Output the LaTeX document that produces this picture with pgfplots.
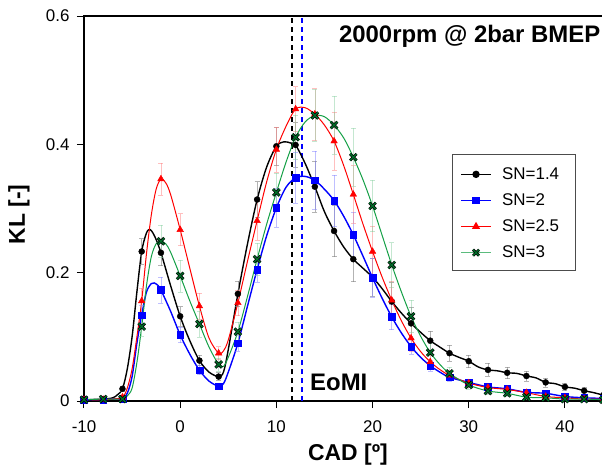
\documentclass[border=0pt]{standalone}
\usepackage{fontspec}
\setmainfont{Liberation Sans}
\usepackage{pgfplots}
\usepackage{pgfplotstable}
\pgfplotsset{compat=1.18}

\definecolor{sgreen}{RGB}{20,160,70}
\definecolor{mkgreen}{RGB}{0,110,40}
\definecolor{sblue}{RGB}{0,0,255}
\definecolor{sred}{RGB}{255,0,0}

\pgfdeclareplotmark{gx}{%
  \pgfsetlinewidth{2.8bp}\pgfsetstrokecolor{black}%
  \pgfpathmoveto{\pgfqpoint{-\pgfplotmarksize}{-\pgfplotmarksize}}%
  \pgfpathlineto{\pgfqpoint{\pgfplotmarksize}{\pgfplotmarksize}}%
  \pgfpathmoveto{\pgfqpoint{-\pgfplotmarksize}{\pgfplotmarksize}}%
  \pgfpathlineto{\pgfqpoint{\pgfplotmarksize}{-\pgfplotmarksize}}%
  \pgfusepathqstroke
  \pgfsetlinewidth{1.3bp}\pgfsetstrokecolor{mkgreen}%
  \pgfpathmoveto{\pgfqpoint{-\pgfplotmarksize}{-\pgfplotmarksize}}%
  \pgfpathlineto{\pgfqpoint{\pgfplotmarksize}{\pgfplotmarksize}}%
  \pgfpathmoveto{\pgfqpoint{-\pgfplotmarksize}{\pgfplotmarksize}}%
  \pgfpathlineto{\pgfqpoint{\pgfplotmarksize}{-\pgfplotmarksize}}%
  \pgfusepathqstroke
}

\pgfplotsset{mylegimg/.style={legend image code/.code={%
  \draw[mark repeat=2,mark phase=2,##1] plot coordinates {(0bp,0bp) (15bp,0bp) (30bp,0bp)};
  \path (0bp,0bp) (39bp,0bp);}}}

% ---- markers with error bars (x, y, e) ----
\pgfplotstableread{
x y e
-10 0.002 0.001
-8 0.003 0.001
-6 0.019 0.004
-4 0.233 0.020
-2 0.231 0.020
0 0.132 0.015
2 0.063 0.008
4 0.038 0.006
6 0.167 0.020
8 0.314 0.028
10 0.397 0.030
12 0.399 0.035
14 0.334 0.040
16 0.265 0.040
18 0.221 0.035
20 0.193 0.030
22 0.155 0.030
24 0.121 0.025
26 0.094 0.015
28 0.0745 0.012
30 0.062 0.010
32 0.0485 0.010
34 0.044 0.009
36 0.039 0.008
38 0.029 0.007
40 0.022 0.006
42 0.016 0.005
44 0.009 0.004
}\mkblack
\pgfplotstableread{
x y e
-10 0.002 0.001
-8 0.002 0.001
-6 0.004 0.002
-4 0.134 0.015
-2 0.173 0.020
0 0.103 0.012
2 0.048 0.007
4 0.023 0.005
6 0.090 0.012
8 0.205 0.020
10 0.301 0.030
12 0.348 0.040
14 0.344 0.045
16 0.3125 0.040
18 0.259 0.035
20 0.192 0.030
22 0.131 0.020
24 0.085 0.012
26 0.055 0.008
28 0.037 0.006
30 0.029 0.005
32 0.022 0.004
34 0.019 0.004
36 0.0135 0.003
38 0.012 0.003
40 0.007 0.002
42 0.005 0.002
44 0.004 0.002
}\mkblue
\pgfplotstableread{
x y e
-10 0.002 0.001
-8 0.002 0.001
-6 0.006 0.002
-4 0.156 0.020
-2 0.346 0.025
0 0.267 0.025
2 0.148 0.020
4 0.0745 0.010
6 0.153 0.020
8 0.281 0.030
10 0.392 0.035
12 0.455 0.035
14 0.447 0.040
16 0.405 0.045
18 0.322 0.045
20 0.233 0.040
22 0.157 0.030
24 0.098 0.020
26 0.061 0.012
28 0.040 0.008
30 0.028 0.006
32 0.021 0.005
34 0.018 0.004
36 0.013 0.003
38 0.007 0.003
40 0.005 0.002
42 0.003 0.002
44 0.003 0.002
}\mkred
\pgfplotstableread{
x y e
-10 0.002 0.001
-8 0.003 0.001
-6 0.003 0.002
-4 0.116 0.015
-2 0.249 0.025
0 0.195 0.025
2 0.120 0.020
4 0.057 0.010
6 0.108 0.015
8 0.221 0.025
10 0.325 0.030
12 0.411 0.035
14 0.445 0.040
16 0.430 0.045
18 0.380 0.045
20 0.304 0.040
22 0.212 0.035
24 0.132 0.025
26 0.0755 0.015
28 0.043 0.010
30 0.025 0.007
32 0.0156 0.005
34 0.012 0.004
36 0.006 0.003
38 0.005 0.003
40 0.003 0.002
42 0.003 0.002
44 0.002 0.002
}\mkgreen

% ---- finer curves ----
\pgfplotstableread{
x y
-10 0.002
-8 0.003
-7 0.005
-6.5 0.010
-6 0.019
-5.5 0.050
-5 0.100
-4.5 0.170
-4 0.233
-3.5 0.262
-3.1 0.267
-2.6 0.255
-2 0.231
-1 0.180
0 0.132
1 0.094
2 0.063
3 0.045
4 0.038
4.5 0.045
5 0.080
6 0.167
7 0.245
8 0.314
9 0.365
10 0.397
10.8 0.404
11.5 0.402
12 0.399
13 0.370
14 0.334
15 0.295
16 0.265
17 0.240
18 0.221
19 0.207
20 0.193
21 0.175
22 0.155
23 0.137
24 0.121
25 0.107
26 0.094
27 0.084
28 0.0745
29 0.068
30 0.062
31 0.053
32 0.0485
33 0.047
34 0.044
35 0.043
36 0.039
37 0.036
38 0.029
39 0.027
40 0.022
41 0.020
42 0.016
43 0.013
44 0.009
}\lnblack
\pgfplotstableread{
x y
-10 0.002
-8 0.002
-7 0.003
-6 0.004
-5.5 0.012
-5 0.038
-4.5 0.090
-4 0.134
-3.5 0.170
-3 0.183
-2.7 0.184
-2.3 0.180
-2 0.173
-1 0.140
0 0.103
1 0.073
2 0.048
3 0.031
4 0.023
4.5 0.027
5 0.045
6 0.090
7 0.148
8 0.205
9 0.258
10 0.301
11 0.333
12 0.348
13 0.350
14 0.344
15 0.330
16 0.3125
17 0.288
18 0.259
19 0.226
20 0.192
21 0.160
22 0.131
23 0.106
24 0.085
25 0.068
26 0.055
27 0.045
28 0.037
30 0.029
32 0.022
34 0.019
36 0.0135
38 0.012
40 0.007
42 0.005
44 0.004
}\lnblue
\pgfplotstableread{
x y
-10 0.002
-8 0.002
-7 0.003
-6 0.006
-5.5 0.020
-5 0.050
-4.5 0.100
-4 0.156
-3.5 0.230
-3 0.290
-2.5 0.330
-2 0.346
-1.5 0.340
-1 0.322
0 0.267
1 0.207
2 0.148
3 0.098
4 0.0745
4.5 0.078
5 0.095
6 0.153
7 0.218
8 0.281
9 0.342
10 0.392
11 0.428
12 0.455
13 0.457
14 0.447
15 0.430
16 0.405
17 0.367
18 0.322
19 0.276
20 0.233
21 0.193
22 0.157
23 0.125
24 0.098
25 0.077
26 0.061
27 0.049
28 0.040
30 0.028
32 0.021
34 0.018
36 0.013
38 0.007
40 0.005
42 0.003
44 0.003
}\lnred
\pgfplotstableread{
x y
-10 0.002
-8 0.003
-7 0.003
-6 0.003
-5.5 0.008
-5 0.020
-4.5 0.060
-4 0.116
-3.5 0.180
-3 0.225
-2.5 0.245
-2 0.249
-1.5 0.245
-1 0.232
0 0.195
1 0.156
2 0.120
3 0.084
4 0.057
4.5 0.054
5 0.068
6 0.108
7 0.163
8 0.221
9 0.276
10 0.325
11 0.372
12 0.411
13 0.435
14 0.445
15 0.443
16 0.430
17 0.410
18 0.380
19 0.345
20 0.304
21 0.258
22 0.212
23 0.170
24 0.132
25 0.101
26 0.0755
27 0.057
28 0.043
30 0.025
32 0.0156
34 0.012
36 0.006
38 0.005
40 0.003
42 0.003
44 0.002
}\lngreen

\begin{document}
\begin{tikzpicture}
\begin{axis}[
  name=ax,
  scale only axis,
  width=529bp, height=385bp,
  xmin=-10, xmax=45, ymin=0, ymax=0.6,
  xtick={-10,0,10,20,30,40},
  ytick={0,0.2,0.4,0.6},
  tick pos=left,
  tick align=outside,
  major tick length=7bp,
  axis line style={line width=1.3bp},
  every tick/.style={black, line width=1bp},
  /pgf/number format/assume math mode=true,
  yticklabel style={/pgf/number format/fixed, font=\fontsize{17}{20}\selectfont, xshift=-4bp},
  xticklabel style={font=\fontsize{17}{20}\selectfont, yshift=-9bp},
  xlabel={\textbf{CAD [º]}},
  ylabel={\textbf{KL [-]}},
  xlabel style={font=\fontsize{23}{27}\selectfont, at={(axis description cs:0.499,-0.14)}, anchor=center},
  ylabel style={font=\fontsize{23}{27}\selectfont, at={(axis description cs:-0.123,0.485)}, anchor=center, rotate=0},
  legend style={at={(0.696,0.6416)}, anchor=north west, draw=none, fill=none,
    font=\fontsize{17}{20}\selectfont, inner xsep=8bp, inner ysep=12bp, row sep=9.8bp,
    nodes={inner sep=1.5bp}},
  legend cell align=left,
  error bars/y dir=both, error bars/y explicit,
]
% dashed EoMI lines
\addplot[forget plot, black, line width=2bp, dash pattern=on 5bp off 4bp] coordinates {(11.6,0) (11.6,0.6)};
\addplot[forget plot, sblue, line width=2bp, dash pattern=on 5bp off 4bp] coordinates {(12.7,0) (12.7,0.6)};

% curves
\addplot[forget plot, black, line width=1.4bp, smooth, no marks] table[x=x,y=y] {\lnblack};
\addplot[forget plot, sblue, line width=1.4bp, smooth, no marks] table[x=x,y=y] {\lnblue};
\addplot[forget plot, sred, line width=1bp, smooth, no marks] table[x=x,y=y] {\lnred};
\addplot[forget plot, sgreen, line width=1bp, smooth, no marks] table[x=x,y=y] {\lngreen};

% markers with error bars
\addplot[forget plot, only marks, black, mark=*, mark size=3bp,
  error bars/error bar style={black!50, opacity=0.6, line width=0.6bp},
  error bars/error mark options={rotate=90, mark size=2.5bp, black!50, opacity=0.6, line width=0.6bp}]
  table[x=x,y=y,y error=e] {\mkblack};
\addplot[forget plot, only marks, sblue, mark=square*, mark size=3.3bp,
  error bars/error bar style={sblue!50, opacity=0.5, line width=0.6bp},
  error bars/error mark options={rotate=90, mark size=2.5bp, sblue!50, opacity=0.5, line width=0.6bp}]
  table[x=x,y=y,y error=e] {\mkblue};
\addplot[forget plot, only marks, sred, mark=triangle*, mark size=3.8bp,
  error bars/error bar style={sred!50, opacity=0.5, line width=0.6bp},
  error bars/error mark options={rotate=90, mark size=2.5bp, sred!50, opacity=0.5, line width=0.6bp}]
  table[x=x,y=y,y error=e] {\mkred};
\addplot[forget plot, only marks, mark=gx, mark size=3.3bp,
  error bars/error bar style={sgreen!50, opacity=0.5, line width=0.6bp},
  error bars/error mark options={rotate=90, mark size=2.5bp, sgreen!50, opacity=0.5, line width=0.6bp}]
  table[x=x,y=y,y error=e] {\mkgreen};

\addlegendimage{mylegimg, black, line width=1.3bp, mark=*, mark size=3bp}
\addlegendentry{SN=1.4}
\addlegendimage{mylegimg, sblue, line width=1.3bp, mark=square*, mark size=3.3bp}
\addlegendentry{SN=2}
\addlegendimage{mylegimg, sred, line width=1bp, mark=triangle*, mark size=3.8bp}
\addlegendentry{SN=2.5}
\addlegendimage{mylegimg, sgreen!70, line width=1.3bp, mark=gx, mark size=3bp}
\addlegendentry{SN=3}

% legend frame
\draw[black!70, line width=0.8bp] (axis description cs:0.6957,0.6416) rectangle (axis description cs:0.9282,0.3403);

\node[anchor=base west, font=\fontsize{24}{28}\selectfont\bfseries, inner sep=0pt] at (axis cs:16.5,0.559) {2000rpm @ 2bar BMEP};
\node[anchor=base west, font=\fontsize{24}{28}\selectfont\bfseries, inner sep=0pt] at (axis cs:13.5,0.0156) {EoMI};
\end{axis}
\pgfresetboundingbox
\useasboundingbox ([shift={(-84bp,-67bp)}]ax.south west) rectangle ([shift={(518bp,401bp)}]ax.south west);
\end{tikzpicture}
\end{document}
